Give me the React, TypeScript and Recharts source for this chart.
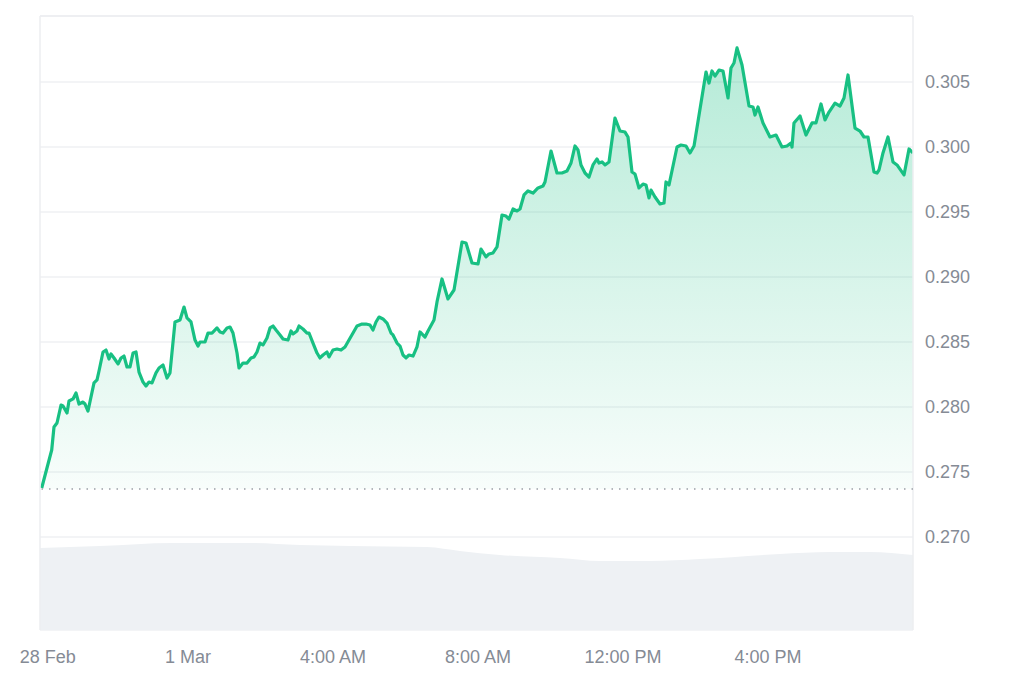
import { ComposedChart, Area, XAxis, YAxis, CartesianGrid, ReferenceLine } from 'recharts';

// hours relative to 1 Mar 00:00
const TIMES = [
  -4.036, -3.76, -3.697, -3.614, -3.503, -3.448, -3.338, -3.283, -3.172, -3.09,
  -3.007, -2.897, -2.841, -2.759, -2.593, -2.51, -2.455, -2.345, -2.262, -2.179,
  -2.124, -2.041, -1.931, -1.848, -1.766, -1.683, -1.6, -1.517, -1.434, -1.352,
  -1.241, -1.159, -1.076, -0.993, -0.883, -0.8, -0.69, -0.579, -0.497, -0.359,
  -0.221, -0.11, -0.028, 0.083, 0.193, 0.276, 0.331, 0.469, 0.552, 0.662,
  0.8, 0.883, 0.966, 1.076, 1.159, 1.241, 1.352, 1.407, 1.517, 1.628,
  1.738, 1.821, 1.903, 1.986, 2.069, 2.179, 2.262, 2.345, 2.428, 2.538,
  2.621, 2.759, 2.841, 2.897, 3.007, 3.062, 3.172, 3.283, 3.338, 3.448,
  3.559, 3.641, 3.724, 3.834, 3.89, 4.0, 4.11, 4.221, 4.331, 4.441,
  4.552, 4.662, 4.8, 4.91, 5.021, 5.103, 5.186, 5.269, 5.379, 5.49,
  5.6, 5.655, 5.766, 5.848, 5.931, 6.014, 6.097, 6.207, 6.317, 6.4,
  6.538, 6.621, 6.786, 6.869, 7.007, 7.172, 7.338, 7.559, 7.669, 7.834,
  8.0, 8.083, 8.221, 8.303, 8.414, 8.524, 8.662, 8.772, 8.855, 8.966,
  9.076, 9.159, 9.269, 9.379, 9.517, 9.655, 9.793, 9.848, 10.014, 10.179,
  10.317, 10.455, 10.566, 10.676, 10.759, 10.841, 10.952, 11.062, 11.172, 11.283,
  11.338, 11.421, 11.503, 11.614, 11.779, 11.917, 12.055, 12.138, 12.248, 12.331,
  12.441, 12.552, 12.634, 12.717, 12.772, 12.883, 13.021, 13.131, 13.186, 13.269,
  13.49, 13.6, 13.738, 13.848, 13.959, 14.29, 14.372, 14.455, 14.538, 14.648,
  14.759, 14.897, 14.979, 15.062, 15.145, 15.283, 15.476, 15.586, 15.641, 15.724,
  15.862, 15.972, 16.055, 16.221, 16.386, 16.524, 16.634, 16.662, 16.717, 16.883,
  17.048, 17.214, 17.324, 17.462, 17.572, 17.683, 17.848, 17.986, 18.097, 18.207,
  18.4, 18.538, 18.648, 18.759, 18.924, 19.007, 19.062, 19.172, 19.31, 19.448,
  19.559, 19.752, 19.89, 20.0,
];

const PRICES = [
  0.27377, 0.27669, 0.27846, 0.27877, 0.28015, 0.28008, 0.27954, 0.28046, 0.28062, 0.28108,
  0.28023, 0.28038, 0.28023, 0.27969, 0.28185, 0.28208, 0.28277, 0.28423, 0.28438, 0.28369,
  0.28408, 0.28377, 0.28331, 0.28377, 0.28392, 0.28308, 0.28308, 0.28415, 0.28423, 0.28269,
  0.28192, 0.28162, 0.28192, 0.28185, 0.28262, 0.283, 0.28323, 0.28223, 0.28262, 0.28654,
  0.28669, 0.28769, 0.28685, 0.28654, 0.28515, 0.28469, 0.285, 0.285, 0.28569, 0.28569,
  0.28608, 0.28577, 0.28569, 0.28608, 0.28615, 0.28569, 0.28415, 0.283, 0.28338, 0.28338,
  0.28377, 0.28385, 0.28423, 0.28492, 0.28477, 0.28531, 0.28608, 0.28623, 0.28592, 0.28554,
  0.28523, 0.28515, 0.28585, 0.28562, 0.28585, 0.28623, 0.286, 0.28569, 0.28569, 0.28492,
  0.28415, 0.28377, 0.284, 0.28423, 0.28385, 0.28438, 0.28446, 0.28438, 0.28462, 0.28515,
  0.28569, 0.28623, 0.28638, 0.28638, 0.28631, 0.28592, 0.28654, 0.28692, 0.28677, 0.28646,
  0.28569, 0.28554, 0.28492, 0.28469, 0.284, 0.28377, 0.284, 0.28392, 0.28462, 0.28577,
  0.28538, 0.28585, 0.28669, 0.28808, 0.28985, 0.28831, 0.289, 0.29269, 0.29262, 0.29108,
  0.291, 0.29215, 0.29154, 0.29177, 0.29185, 0.29231, 0.29477, 0.29469, 0.29446, 0.29523,
  0.29508, 0.29523, 0.29631, 0.29662, 0.29646, 0.29685, 0.297, 0.29731, 0.29969, 0.298,
  0.298, 0.29815, 0.29877, 0.30008, 0.29977, 0.29862, 0.298, 0.29769, 0.29862, 0.29908,
  0.29877, 0.29885, 0.29862, 0.29885, 0.30223, 0.30123, 0.30115, 0.30077, 0.29808, 0.29792,
  0.29685, 0.29715, 0.29708, 0.29608, 0.29669, 0.29615, 0.29562, 0.29569, 0.29731, 0.29708,
  0.3, 0.30015, 0.30008, 0.29954, 0.30008, 0.30577, 0.30492, 0.30585, 0.30546, 0.30592,
  0.30585, 0.30377, 0.30608, 0.30646, 0.30762, 0.30631, 0.30315, 0.30308, 0.30246, 0.30308,
  0.30185, 0.30123, 0.30077, 0.30092, 0.3, 0.30008, 0.30031, 0.3, 0.30185, 0.30238,
  0.30092, 0.30185, 0.30185, 0.30331, 0.30208, 0.30269, 0.30338, 0.30315, 0.30377, 0.30554,
  0.30146, 0.30123, 0.30077, 0.30077, 0.29808, 0.298, 0.29823, 0.29954, 0.30077, 0.29885,
  0.29862, 0.29785, 0.29985, 0.29954,
];

const VOL_TIMES = [-4.08, -2.43, -0.41, 1.71, 3.09, 4.47, 6.59, 7.5, 8.6, 10.26, 11.37, 12.74, 14.12, 16.33, 17.71, 18.8, 20.0];
const VOLUMES = [93.5, 95.8, 99.2, 99.2, 96.9, 95.8, 94.6, 90.1, 85.5, 82.1, 78.7, 78.7, 80.9, 86.6, 88.9, 88.9, 85.5];

const X_TICKS = [-3.87, 0, 4, 8, 12, 16];
const X_LABELS = ['28 Feb', '1 Mar', '4:00 AM', '8:00 AM', '12:00 PM', '4:00 PM'];
const Y_TICKS = [0.27, 0.275, 0.28, 0.285, 0.29, 0.295, 0.3, 0.305];

const X_DOMAIN: [number, number] = [-4.083, 20];
const Y_DOMAIN: [number, number] = [0.262846, 0.310077];
const START_PRICE = 0.27369;

const priceData = TIMES.map((t, i) => ({ t, price: PRICES[i] }));
const volumeData = VOL_TIMES.map((t, i) => ({ t, volume: VOLUMES[i] }));

const GREEN = '#18c083';
const tickStyle = { fill: '#858b95', fontSize: 18, fontFamily: 'Liberation Sans, Arial, sans-serif' };

export default function App() {
  return (
    <div style={{ width: 1008, height: 675, background: '#fff' }}>
      <ComposedChart width={1008} height={675} margin={{ top: 8, right: 0, bottom: 0, left: 32 }}>
        <defs>
          <linearGradient id='priceFill' x1='0' y1='0' x2='0' y2='1'>
            <stop offset='0%' stopColor={GREEN} stopOpacity={0.32} />
            <stop offset='100%' stopColor={GREEN} stopOpacity={0.03} />
          </linearGradient>
        </defs>
        <CartesianGrid yAxisId='price' vertical={false} stroke='#eff1f3' strokeWidth={1.5} />
        <XAxis
          dataKey='t'
          type='number'
          domain={X_DOMAIN}
          ticks={X_TICKS}
          interval={0}
          allowDataOverflow
          tickFormatter={(v: number) => X_LABELS[X_TICKS.indexOf(v)] ?? ''}
          axisLine={false}
          tickLine={false}
          tickMargin={14}
          height={53}
          tick={tickStyle}
        />
        <YAxis
          yAxisId='price'
          orientation='right'
          type='number'
          domain={Y_DOMAIN}
          ticks={Y_TICKS}
          interval={0}
          allowDataOverflow
          tickFormatter={(v: number) => v.toFixed(3)}
          axisLine={false}
          tickLine={false}
          tickMargin={6}
          width={103}
          tick={tickStyle}
        />
        <YAxis yAxisId='vol' hide type='number' domain={[0, 700]} />
        <ReferenceLine yAxisId='price' y={Y_DOMAIN[1]} stroke='#eceef1' strokeWidth={1.5} />
        <ReferenceLine yAxisId='price' x={X_DOMAIN[0]} stroke='#eceef1' strokeWidth={1.5} />
        <ReferenceLine yAxisId='price' x={X_DOMAIN[1]} stroke='#eceef1' strokeWidth={1.5} />
        <Area
          yAxisId='vol'
          data={volumeData}
          dataKey='volume'
          type='monotone'
          stroke='none'
          fill='#eef1f4'
          fillOpacity={1}
          dot={false}
          activeDot={false}
          isAnimationActive={false}
        />
        <ReferenceLine yAxisId='price' y={START_PRICE} stroke='#9a9fa6' strokeWidth={1.5} strokeDasharray='1.5 6' />
        <Area
          yAxisId='price'
          data={priceData}
          dataKey='price'
          type='linear'
          baseValue={START_PRICE}
          stroke={GREEN}
          strokeWidth={3.2}
          strokeLinejoin='round'
          fill='url(#priceFill)'
          fillOpacity={1}
          dot={false}
          activeDot={false}
          isAnimationActive={false}
        />
      </ComposedChart>
    </div>
  );
}
